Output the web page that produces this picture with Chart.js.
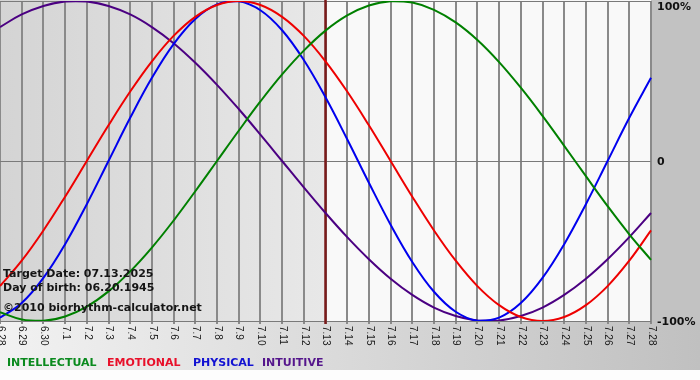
<!DOCTYPE html>
<html><head><meta charset="utf-8">
<script src="https://cdn.jsdelivr.net/npm/chart.js@4.4.1/dist/chart.umd.min.js"></script>
<style>html,body{margin:0;padding:0;background:#fff;overflow:hidden}canvas{display:block}</style>
</head><body>
<canvas id="c" width="700" height="380"></canvas>
<script>
const dates = ['6.28','6.29','6.30','7.1','7.2','7.3','7.4','7.5','7.6','7.7','7.8','7.9','7.10','7.11','7.12','7.13','7.14','7.15','7.16','7.17','7.18','7.19','7.20','7.21','7.22','7.23','7.24','7.25','7.26','7.27','7.28'];
const intellectual = [-94.5,-99.0,-99.9,-97.2,-91.0,-81.5,-69.0,-54.1,-37.2,-18.9,0,18.9,37.2,54.1,69.0,81.5,91.0,97.2,99.9,99.0,94.5,86.6,75.6,61.8,45.8,28.2,9.5,-9.5,-28.2,-45.8,-61.8];
const emotional = [-78.2,-62.3,-43.4,-22.3,0,22.3,43.4,62.3,78.2,90.1,97.5,100,97.5,90.1,78.2,62.3,43.4,22.3,0,-22.3,-43.4,-62.3,-78.2,-90.1,-97.5,-100,-97.5,-90.1,-78.2,-62.3,-43.4];
const physical = [-97.9,-88.8,-73.1,-52.0,-27.0,0,27.0,52.0,73.1,88.8,97.9,99.8,94.2,81.7,63.1,39.8,13.6,-13.6,-39.8,-63.1,-81.7,-94.2,-99.8,-97.9,-88.8,-73.1,-52.0,-27.0,0,27.0,52.0];
const intuitive = [83.7,91.6,96.9,99.7,99.7,96.9,91.6,83.7,73.6,61.4,47.6,32.5,16.5,0,-16.5,-32.5,-47.6,-61.4,-73.6,-83.7,-91.6,-96.9,-99.7,-99.7,-96.9,-91.6,-83.7,-73.6,-61.4,-47.6,-32.5];
const yTickValues = [100, 0, -100];
const yTickLabels = ['100%', '0', '-100%'];
const targetDate = '7.13';
const infoLines = ['Target Date: 07.13.2025', 'Day of birth: 06.20.1945', '\u00A92010 biorhythm-calculator.net'];
const seriesNames = ['INTELLECTUAL', 'EMOTIONAL', 'PHYSICAL', 'INTUITIVE'];
const seriesColors = ['#008000', '#ee0000', '#0000ee', '#4b0082'];
const legendColors = ['#0a8a1e', '#e8102a', '#1212d2', '#55168c'];

const decor = {
  id: 'decor',
  beforeDraw(chart) {
    const ctx = chart.ctx, a = chart.chartArea, xs = chart.scales.x;
    const tx = xs.getPixelForValue(dates.indexOf(targetDate));
    ctx.save();
    ctx.fillStyle = '#fdfdfd';
    ctx.fillRect(0, 0, 700, 380);
    let g = ctx.createLinearGradient(0, 0, 700, 0);
    g.addColorStop(0, '#f2f2f2');
    g.addColorStop(1, '#c0c0c0');
    ctx.fillStyle = g;
    ctx.fillRect(0, 0, 700, 370);
    ctx.fillStyle = '#c2c2c2';
    ctx.fillRect(a.right, 0, 700 - a.right, a.bottom + 2);
    g = ctx.createLinearGradient(a.left, 0, tx, 0);
    g.addColorStop(0, '#d4d4d4');
    g.addColorStop(1, '#e8e8e8');
    ctx.fillStyle = g;
    ctx.fillRect(a.left, 0, tx - a.left, a.bottom);
    ctx.fillStyle = '#f9f9f9';
    ctx.fillRect(tx, 0, a.right - tx, a.bottom);
    ctx.restore();
  },
  beforeDatasetsDraw(chart) {
    const ctx = chart.ctx, a = chart.chartArea, xs = chart.scales.x;
    const tx = xs.getPixelForValue(dates.indexOf(targetDate));
    ctx.save();
    ctx.strokeStyle = '#7a1a1a';
    ctx.lineWidth = 2.5;
    ctx.beginPath();
    ctx.moveTo(tx, 0);
    ctx.lineTo(tx, a.bottom + 3);
    ctx.stroke();
    ctx.restore();
  },
  afterDraw(chart) {
    const ctx = chart.ctx, a = chart.chartArea, xs = chart.scales.x, ys = chart.scales.y;
    ctx.save();
    // x tick labels, rotated clockwise
    ctx.font = '10px "Liberation Sans", Arial, sans-serif';
    ctx.fillStyle = '#1a1a1a';
    ctx.textAlign = 'left';
    ctx.textBaseline = 'middle';
    dates.forEach((d, i) => {
      const x = xs.getPixelForValue(i);
      ctx.save();
      ctx.translate(x + 0.5, a.bottom + 5);
      ctx.rotate(Math.PI / 2);
      ctx.fillText(d, 0, 0);
      ctx.restore();
    });
    // y labels on the right
    ctx.font = 'bold 11px "DejaVu Sans", Verdana, sans-serif';
    ctx.fillStyle = '#111';
    yTickValues.forEach((v, i) => {
      let y = ys.getPixelForValue(v) + 1;
      y = Math.max(y, 7);
      ctx.fillText(yTickLabels[i], a.right + 6, y);
    });
    // info text
    ctx.textBaseline = 'alphabetic';
    ctx.fillStyle = '#151515';
    const infoY = [277, 290.5, 310.5];
    infoLines.forEach((t, i) => ctx.fillText(t, 3, infoY[i]));
    // legend
    const legX = [7, 107, 193, 262];
    seriesNames.forEach((n, i) => {
      ctx.fillStyle = legendColors[i];
      ctx.fillText(n, legX[i], 366);
    });
    ctx.restore();
  }
};

new Chart(document.getElementById('c'), {
  type: 'line',
  data: {
    labels: dates,
    datasets: [
      { label: seriesNames[0], data: intellectual, borderColor: seriesColors[0] },
      { label: seriesNames[1], data: emotional, borderColor: seriesColors[1] },
      { label: seriesNames[2], data: physical, borderColor: seriesColors[2] },
      { label: seriesNames[3], data: intuitive, borderColor: seriesColors[3] }
    ]
  },
  options: {
    responsive: false,
    animation: false,
    devicePixelRatio: 1,
    layout: { padding: { top: 1, right: 49, bottom: 56, left: 0 } },
    elements: {
      point: { radius: 0, hoverRadius: 0 },
      line: { borderWidth: 2, tension: 0.4, fill: false }
    },
    plugins: { legend: { display: false }, tooltip: { enabled: false } },
    events: [],
    scales: {
      x: {
        type: 'category',
        offset: false,
        grid: { display: true, offset: false, color: '#8a8a8a', lineWidth: 2, drawTicks: true, tickLength: 3 },
        border: { display: false },
        ticks: { display: false }
      },
      y: {
        position: 'right',
        min: -100,
        max: 100,
        ticks: { display: false, stepSize: 100 },
        grid: { display: true, color: '#7a7a7a', lineWidth: 1, drawTicks: false },
        border: { display: false }
      }
    }
  },
  plugins: [decor]
});
</script>
</body></html>
